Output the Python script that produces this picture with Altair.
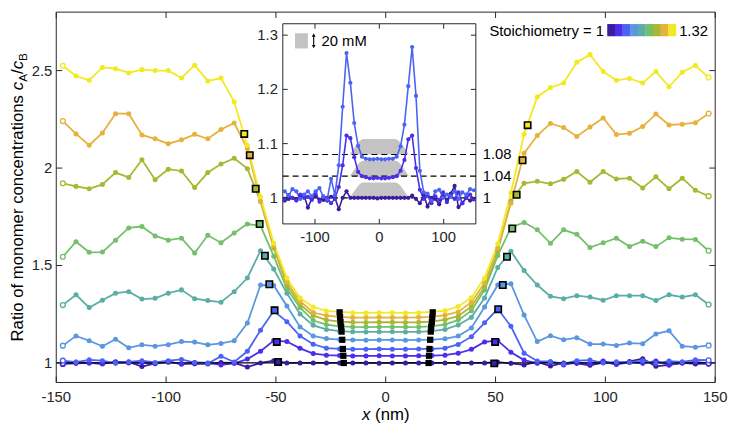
import altair as alt
import pandas as pd

FONT = "Liberation Sans"
W, H = 669, 376

# ---------------- data ----------------
X_NM = [-147, -141, -135, -129, -123, -117, -111, -105, -99, -93, -87, -81, -75, -69, -63, -57,
        -51, -45, -39, -33, -27, -21, -15, -9, -3, 3, 9, 15, 21, 27, 33, 39, 45, 51, 57, 63,
        69, 75, 81, 87, 93, 99, 105, 111, 117, 123, 129, 135, 141, 147]

STOICH = ["1", "1.04", "1.08", "1.12", "1.16", "1.2", "1.24", "1.28", "1.32"]
COLORS = ["#3a1c9e", "#4a2ee8", "#4b63f3", "#5a97e0", "#5aaea6",
          "#73bf6a", "#a9b832", "#e8b13d", "#f1ea22"]

R_100 = [0.995, 0.998, 1.0, 0.997, 1.004, 1.005, 0.982, 0.998, 1.004, 0.997, 0.996, 0.995, 1.002, 1.0,
         0.979, 1.0, 1.012, 1.0, 1.0, 1.0, 1.0, 1.0,
         1.0, 1.0, 0.999, 1.0, 1.0, 1.0,
         1.0, 1.0, 1.0, 1.0, 1.0, 1.004, 0.998,
         0.99, 1.005, 0.984, 1.0, 0.998, 0.988, 1.002, 0.996, 1.008, 1.022, 0.983, 0.99, 1.0, 0.995, 0.997]
R_104 = [0.998, 1.005, 1.0, 0.995, 1.006, 1.0, 1.002, 0.996, 1.008, 0.993, 1.003, 1.0, 0.99, 0.998,
         1.02, 1.06, 1.115, 1.11, 1.075, 1.048, 1.04, 1.038,
         1.036, 1.036, 1.037, 1.036, 1.036, 1.037,
         1.038, 1.04, 1.05, 1.07, 1.108, 1.115, 1.055,
         1.015, 0.998, 1.004, 0.99, 1.003, 0.996, 1.01, 0.992, 1.004, 0.998, 1.01, 0.99, 1.0, 1.006, 0.998]
R_108 = [1.012, 1.004, 1.016, 1.012, 0.998, 1.006, 1.012, 1.003, 1.012, 1.018, 1.002, 0.997, 1.035, 1.005,
         1.06, 1.168, 1.267, 1.212, 1.138, 1.096, 1.076, 1.072,
         1.071, 1.071, 1.072, 1.071, 1.071, 1.072,
         1.072, 1.076, 1.095, 1.135, 1.206, 1.278, 1.188,
         1.05, 1.01, 1.008, 0.995, 1.012, 1.015, 1.0, 1.006, 1.003, 1.012, 0.998, 1.01, 1.006, 1.016, 1.014]
R_112 = [1.089, 1.139, 1.114, 1.086, 1.122, 1.078, 1.093, 1.086, 1.094, 1.11, 1.107, 1.093, 1.10, 1.114,
         1.205, 1.40, 1.398, 1.292, 1.185, 1.139, 1.125, 1.12,
         1.118, 1.117, 1.118, 1.118, 1.117, 1.118,
         1.12, 1.124, 1.138, 1.18, 1.287, 1.40, 1.407,
         1.246, 1.11, 1.14, 1.119, 1.13, 1.097, 1.097, 1.09, 1.102, 1.099, 1.149, 1.165, 1.086, 1.081, 1.09]
R_116 = [1.297, 1.35, 1.284, 1.322, 1.358, 1.366, 1.328, 1.332, 1.358, 1.375, 1.33, 1.32, 1.312, 1.366,
         1.436, 1.576, 1.482, 1.358, 1.251, 1.193, 1.172, 1.163,
         1.16, 1.159, 1.16, 1.16, 1.159, 1.16,
         1.163, 1.172, 1.195, 1.234, 1.333, 1.49, 1.573,
         1.474, 1.40, 1.342, 1.33, 1.345, 1.338, 1.322, 1.345, 1.345, 1.345, 1.32, 1.35, 1.338, 1.35, 1.30]
R_120 = [1.545, 1.622, 1.568, 1.569, 1.63, 1.693, 1.70, 1.652, 1.63, 1.64, 1.564, 1.655, 1.617, 1.667,
         1.713, 1.705, 1.548, 1.38, 1.284, 1.218, 1.197, 1.188,
         1.185, 1.184, 1.185, 1.185, 1.184, 1.185,
         1.188, 1.198, 1.22, 1.268, 1.375, 1.551, 1.695,
         1.721, 1.683, 1.614, 1.683, 1.66, 1.592, 1.617, 1.64, 1.597, 1.625, 1.597, 1.642, 1.635, 1.634, 1.576]
R_124 = [1.922, 1.906, 1.894, 1.916, 1.977, 1.952, 2.043, 1.94, 1.994, 1.985, 1.90, 1.977, 2.021, 2.05,
         1.997, 1.828, 1.59, 1.40, 1.30, 1.243, 1.221, 1.212,
         1.209, 1.208, 1.209, 1.209, 1.208, 1.209,
         1.212, 1.222, 1.24, 1.29, 1.39, 1.575, 1.83,
         1.922, 1.932, 1.919, 1.942, 1.982, 1.927, 1.982, 1.944, 1.948, 1.898, 1.955, 1.894, 1.948, 1.886, 1.856]
R_128 = [2.241, 2.175, 2.117, 2.18, 2.279, 2.279, 2.17, 2.15, 2.125, 2.145, 2.173, 2.15, 2.198, 2.231,
         2.10, 1.83, 1.60, 1.416, 1.317, 1.259, 1.243, 1.236,
         1.233, 1.233, 1.234, 1.233, 1.233, 1.234,
         1.236, 1.245, 1.262, 1.312, 1.41, 1.59, 1.82,
         2.076, 2.167, 2.229, 2.208, 2.162, 2.211, 2.257, 2.172, 2.178, 2.213, 2.277, 2.221, 2.225, 2.233, 2.28]
R_132 = [2.525, 2.472, 2.45, 2.516, 2.51, 2.488, 2.505, 2.50, 2.50, 2.462, 2.528, 2.447, 2.462, 2.34,
         2.117, 1.853, 1.614, 1.436, 1.333, 1.287, 1.267, 1.262,
         1.258, 1.257, 1.258, 1.258, 1.257, 1.258,
         1.262, 1.268, 1.29, 1.335, 1.436, 1.61, 1.873,
         2.173, 2.365, 2.413, 2.436, 2.543, 2.582, 2.495, 2.45, 2.46, 2.436, 2.495, 2.417, 2.492, 2.526, 2.465]
CURVES = [R_100, R_104, R_108, R_112, R_116, R_120, R_124, R_128, R_132]
for c in CURVES:
    assert len(c) == len(X_NM), len(c)

# interface markers (open squares), ordered 1 -> 1.32
SQ_LEFT_X = [-49.0, -49.6, -50.6, -53.0, -55.0, -57.4, -59.2, -61.9, -64.4]
SQ_LEFT_V = [1.005, 1.108, 1.27, 1.404, 1.55, 1.713, 1.894, 2.066, 2.175]
SQ_RIGHT_X = [49.4, 49.8, 51.2, 53.3, 55.2, 57.6, 59.6, 62.3, 64.6]
SQ_RIGHT_V = [0.998, 1.108, 1.276, 1.40, 1.545, 1.69, 1.863, 2.04, 2.22]
# core boundary markers (filled black squares)
BL_LEFT_X = [-19.1, -19.3, -19.5, -19.8, -20.1, -20.3, -20.6, -20.8, -21.0]
BL_RIGHT_X = [19.5, 19.7, 19.9, 20.2, 20.5, 20.7, 21.0, 21.2, 21.4]
BL_V = [1.0, 1.037, 1.072, 1.119, 1.161, 1.186, 1.210, 1.235, 1.26]

# inset: grey concentration profiles (20 mM tall), baselines and profile shape
PROF_X = [-46, -43, -40, -37, -34, -31, -28, -25, 25, 28, 31, 34, 37, 40, 43, 46]
PROF_F = [0, 0.18, 0.36, 0.54, 0.72, 0.86, 0.96, 1.0, 1.0, 0.96, 0.86, 0.72, 0.54, 0.36, 0.18, 0]
PROF_BASE = [1.0, 1.04, 1.08]
PROF_H = 0.0285
DASH_LEVELS = [1.0, 1.04, 1.08]
DASH_LABELS = ["1", "1.04", "1.08"]

XV = [-150, -100, -50, 0, 50, 100, 150]
YV = [1, 1.5, 2, 2.5]
IXV = [-100, 0, 100]
IYV = [1, 1.1, 1.2, 1.3]

# axis domains
XD = [-150, 150]
YD = [0.9, 2.8]
IXD = [-150, 150]
IYD = [0.952, 1.321]
IX0, IX1, IY0, IY1 = 230, 426, 215, 11.8   # inset placement in pixels of the main plot
LC = "#262626"      # label colour
FC = "#262626"      # frame / tick colour

# ---------------- tables ----------------
rows = []
for si, (name, vals) in enumerate(zip(STOICH, CURVES)):
    for i, (x, v) in enumerate(zip(X_NM, vals)):
        rows.append(dict(series=name, k=si, x=x, v=v, end=(i == 0 or i == len(X_NM) - 1)))
df = pd.DataFrame(rows)
df_mid = df[~df["end"]]
df_end = df[df["end"]]
df_in = df[df["k"] <= 2]

sq = pd.DataFrame(dict(series=STOICH * 2, x=SQ_LEFT_X + SQ_RIGHT_X, v=SQ_LEFT_V + SQ_RIGHT_V))
bl = pd.DataFrame(dict(x=BL_LEFT_X + BL_RIGHT_X, v=BL_V + BL_V))
one = pd.DataFrame({"v": [1.0]})

prow = []
for j, b in enumerate(PROF_BASE):
    for x, f in zip(PROF_X, PROF_F):
        prow.append(dict(shape=j, x=x, base=b, top=b + f * PROF_H))
prof = pd.DataFrame(prow)
dash = pd.DataFrame(dict(x0=[IXD[0]] * 3, x1=[IXD[1]] * 3, y=DASH_LEVELS, lab=DASH_LABELS))
bar = pd.DataFrame(dict(x0=[-131], x1=[-111], y0=[1.2755], y1=[1.3035]))
arrow = pd.DataFrame(dict(x=[-102], y0=[1.279], y1=[1.300]))
ONE = pd.DataFrame({"a": [0]})


def frame_df(xd, yd):
    return pd.DataFrame(dict(x0=[xd[0]], x1=[xd[1]], y0=[yd[0]], y1=[yd[1]]))


def tick_tables(xv, yv, xd, yd, wpx, hpx, tpx):
    """inward tick segments on all four sides, tick length tpx pixels"""
    dy = tpx * (yd[1] - yd[0]) / hpx
    dx = tpx * (xd[1] - xd[0]) / wpx
    tx = pd.DataFrame(dict(t=[float(v) for v in xv] * 2,
                           a=[yd[0]] * len(xv) + [yd[1]] * len(xv),
                           b=[yd[0] + dy] * len(xv) + [yd[1] - dy] * len(xv)))
    ty = pd.DataFrame(dict(t=[float(v) for v in yv] * 2,
                           a=[xd[0]] * len(yv) + [xd[1]] * len(yv),
                           b=[xd[0] + dx] * len(yv) + [xd[1] - dx] * len(yv)))
    return tx, ty


def label_df(vals):
    return pd.DataFrame(dict(t=[float(v) for v in vals], lab=["{:g}".format(v) for v in vals]))


mtx, mty = tick_tables(XV, YV, XD, YD, W, H, 6)
itx, ity = tick_tables(IXV, IYV, IXD, IYD, IX1 - IX0, IY0 - IY1, 5)

cscale = alt.Scale(domain=STOICH, range=COLORS)
xs = alt.Scale(domain=XD, nice=False, zero=False)
ys = alt.Scale(domain=YD, nice=False, zero=False)
ixs = alt.Scale(domain=IXD, range=[IX0, IX1], nice=False, zero=False)
iys = alt.Scale(domain=IYD, range=[IY0, IY1], nice=False, zero=False)


def txt(text, x, y, size=17, angle=0, align="left", baseline="alphabetic", style="normal"):
    return alt.Chart(ONE).mark_text(text=text, font=FONT, fontSize=size, angle=angle, align=align,
                                    baseline=baseline, fontStyle=style, color="black").encode(
        x=alt.value(x), y=alt.value(y))


def frame_layers(xd, yd, tx, ty, X, Y, fill):
    if fill == "none":
        fr = alt.Chart(frame_df(xd, yd)).mark_rect(fillOpacity=0, stroke=FC, strokeWidth=1)
    else:
        fr = alt.Chart(frame_df(xd, yd)).mark_rect(fill=fill, stroke=FC, strokeWidth=1)
    fr = fr.encode(x=X("x0"), x2="x1:Q", y=Y("y0"), y2="y1:Q")
    rx = alt.Chart(tx).mark_rule(color=FC, strokeWidth=1).encode(x=X("t"), y=Y("a"), y2="b:Q")
    ry = alt.Chart(ty).mark_rule(color=FC, strokeWidth=1).encode(y=Y("t"), x=X("a"), x2="b:Q")
    return fr, rx, ry


def label_layers(xv, yv, X, Y, xlab_y, ylab_x):
    lx = alt.Chart(label_df(xv)).mark_text(align="center", baseline="top", font=FONT, fontSize=15,
                                          color=LC).encode(
        x=X("t"), y=alt.value(xlab_y), text="lab:N")
    ly = alt.Chart(label_df(yv)).mark_text(align="right", baseline="middle", font=FONT, fontSize=15,
                                          color=LC).encode(
        y=Y("t"), x=alt.value(ylab_x), text="lab:N")
    return lx, ly


# ---------------- main panel ----------------
def mx(f="x"):
    return alt.X(f + ":Q", scale=xs, axis=None)


def my(f="v"):
    return alt.Y(f + ":Q", scale=ys, axis=None)


mfr, mrx, mry = frame_layers(XD, YD, mtx, mty, mx, my, "none")
mlx, mly = label_layers(XV, YV, mx, my, H + 8, -4)

lines = alt.Chart(df).mark_line(strokeWidth=1.8).encode(
    x=mx(), y=my(),
    color=alt.Color("series:N", scale=cscale, legend=None),
    order=alt.Order("x:Q"))
pts = alt.Chart(df_mid).mark_circle(size=26, opacity=1).encode(
    x=mx(), y=my(),
    color=alt.Color("series:N", scale=cscale, legend=None))
ends = alt.Chart(df_end).mark_point(shape="circle", filled=True, size=24, strokeWidth=1.4, opacity=1).encode(
    x=mx(), y=my(),
    fill=alt.value("white"),
    stroke=alt.Stroke("series:N", scale=cscale, legend=None))
unity = alt.Chart(one).mark_rule(color="black", strokeWidth=1.3).encode(y=my())
squares = alt.Chart(sq).mark_square(size=42, strokeWidth=1.6, stroke="black", opacity=1).encode(
    x=mx(), y=my(),
    fill=alt.Fill("series:N", scale=cscale, legend=None))
blacks = alt.Chart(bl).mark_square(size=40, color="black", opacity=1).encode(x=mx(), y=my())

main_layers = [lines, unity, pts, ends, squares, blacks, mrx, mry, mfr, mlx, mly]

# y title: Ratio of monomer concentrations c_A/c_B (rotated)
yb, ys0 = -34, 334.4
main_layers += [
    txt("Ratio of monomer concentrations", yb, ys0, angle=270),
    txt("c", yb, 79.3, angle=270, style="italic"),
    txt("A", yb + 4, 70.8, size=12, angle=270),
    txt("/", yb, 62.8, angle=270),
    txt("c", yb, 58.1, angle=270, style="italic"),
    txt("B", yb + 4, 49.6, size=12, angle=270),
]
# x title
main_layers += [
    txt("x", W / 2 - 24, H + 38, style="italic"),
    txt("(nm)", W / 2 - 10.8, H + 38),
]
# colour legend
main_layers.append(txt("Stoichiometry = 1", 556, 19, size=15, align="right", baseline="middle"))
sw0, sw1 = 559.4, 629.1
step = (sw1 - sw0) / len(COLORS)
for i, c in enumerate(COLORS):
    main_layers.append(alt.Chart(ONE).mark_rect(color=c).encode(
        x=alt.value(sw0 + i * step), x2=alt.value(sw0 + (i + 1) * step + 0.3),
        y=alt.value(12.1), y2=alt.value(24.5)))
main_layers.append(txt("1.32", 632.4, 19, size=15, baseline="middle"))

main = alt.layer(*main_layers)


# ---------------- inset ----------------
def ix(f="x"):
    return alt.X(f + ":Q", scale=ixs, axis=None)


def iy(f="v"):
    return alt.Y(f + ":Q", scale=iys, axis=None)


ifr, irx, iry = frame_layers(IXD, IYD, itx, ity, ix, iy, "white")
ilx, ily = label_layers(IXV, IYV, ix, iy, IY0 + 6, IX0 - 5)
iarea = alt.Chart(prof).mark_area(color="#c3c3c3", opacity=1).encode(
    x=ix(), y=iy("top"), y2="base:Q", detail="shape:N")
idash = alt.Chart(dash).mark_rule(color="black", strokeDash=[6, 4], strokeWidth=1.2).encode(
    x=ix("x0"), x2="x1:Q", y=iy("y"))
ilabs = alt.Chart(dash).mark_text(align="left", baseline="middle", dx=7, font=FONT, fontSize=15,
                                  color="black").encode(
    x=ix("x1"), y=iy("y"), text="lab:N")
ilines = alt.Chart(df_in).mark_line(strokeWidth=1.6).encode(
    x=ix(), y=iy(),
    color=alt.Color("series:N", scale=cscale, legend=None),
    order=alt.Order("x:Q"))
ipts = alt.Chart(df_in).mark_circle(size=18, opacity=1).encode(
    x=ix(), y=iy(),
    color=alt.Color("series:N", scale=cscale, legend=None))
ibar = alt.Chart(bar).mark_rect(color="#c3c3c3").encode(
    x=ix("x0"), x2="x1:Q", y=iy("y0"), y2="y1:Q")
iarrow = alt.Chart(arrow).mark_rule(color="black", strokeWidth=1.1).encode(
    x=ix(), y=iy("y0"), y2="y1:Q")
iup = alt.Chart(arrow).mark_point(shape="triangle-up", filled=True, size=14, color="black", opacity=1).encode(
    x=ix(), y=iy("y1"))
idown = alt.Chart(arrow).mark_point(shape="triangle-down", filled=True, size=14, color="black", opacity=1).encode(
    x=ix(), y=iy("y0"))
itext = alt.Chart(arrow).mark_text(text="20 mM", align="left", baseline="middle", dx=8, font=FONT,
                                   fontSize=15, color="black").encode(
    x=ix(), y=iy("mid")).transform_calculate(mid="(datum.y0 + datum.y1) / 2")

inset = alt.layer(ifr, iarea, idash, ilabs, ilines, ipts, ibar, iarrow, iup, idown, itext,
                  irx, iry, ilx, ily)

chart = alt.layer(main, inset).resolve_scale(
    x="independent", y="independent").resolve_axis(
    x="independent", y="independent").properties(
    width=W, height=H, padding=0).configure_view(
    stroke=None).configure_axis(grid=False)

chart.save("out.html", embed_options={"renderer": "svg", "actions": False})
